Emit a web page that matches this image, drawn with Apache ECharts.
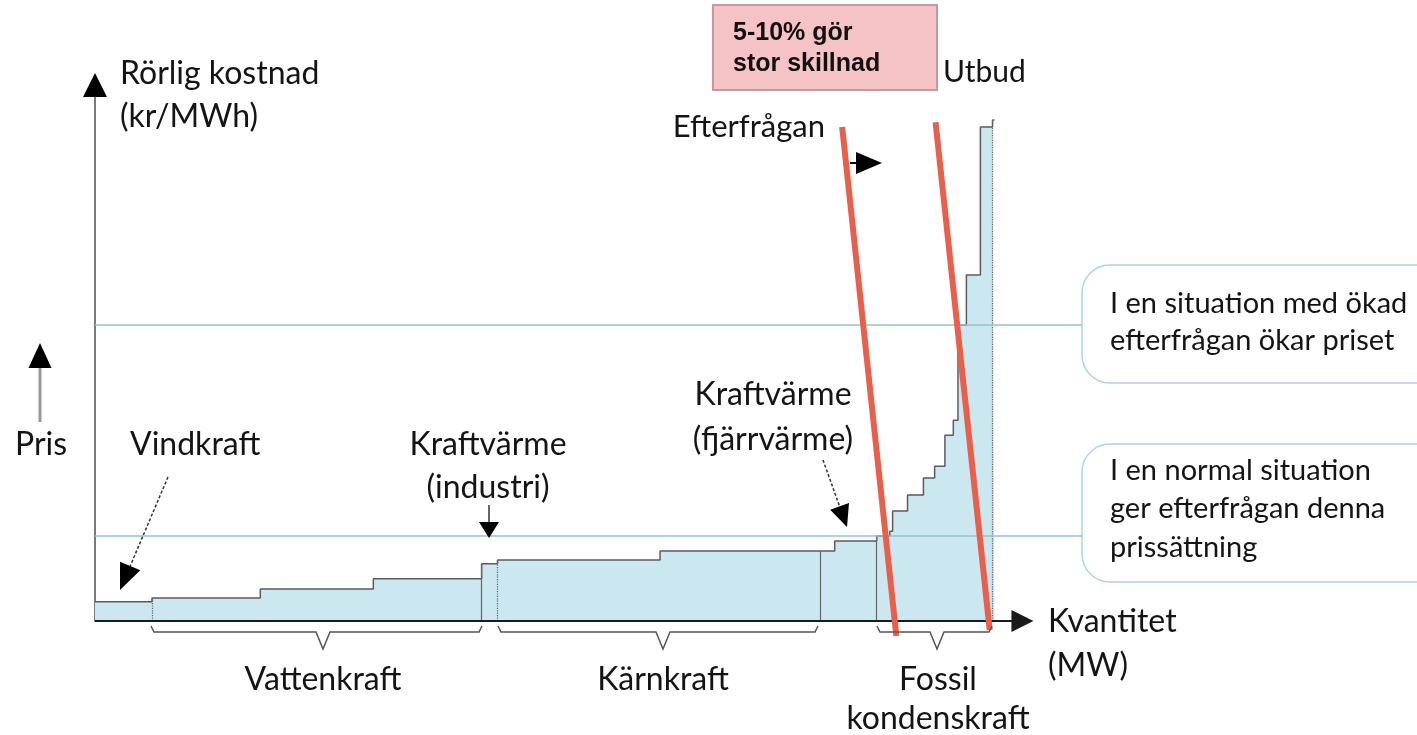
<!DOCTYPE html>
<html>
<head>
<meta charset="utf-8">
<script src="https://cdn.jsdelivr.net/npm/echarts@6/dist/echarts.min.js"></script>
<style>
  html, body { margin: 0; padding: 0; background: #fff; }
  #chart { width: 1417px; height: 735px; }
</style>
</head>
<body>
<div id="chart"></div>
<script>
// utbudskurva: kvantitet där varje nivå börjar, och rörlig kostnad för nivån
const stepX = [0, 6.1, 17.7, 29.8, 41.4, 43.1, 60.5, 79.2, 83.7, 85.1, 85.4, 87.0, 88.7, 89.9, 91.0, 91.9, 92.4, 93.3, 94.8, 96.1, 96.3];
const stepY = [3.6, 4.3, 6.0, 7.9, 10.7, 11.4, 13.1, 15.0, 15.9, 16.8, 20.6, 23.6, 26.8, 29.0, 34.8, 37.6, 55.4, 64.8, 92.5, 93.8, 93.8];

// gränser mellan kraftslag
const dividerX = [6.1, 41.4, 43.1, 77.6, 83.7, 96.1];
const dividerType = ['dotted', 'solid', 'dotted', 'solid', 'solid', 'dotted'];

// prisnivåer (normal / ökad efterfrågan)
const priceLevels = [15.9, 55.4];

// efterfrågekurvor
const demandNormal = [[80.0, 92.5], [85.8, -2.8]];
const demandHigh = [[90.0, 93.4], [95.8, -1.7]];

const braceNames = ['Vattenkraft', 'Kärnkraft', 'Fossil\nkondenskraft'];

const FONT = 'Lato, "Open Sans", sans-serif';
const TXT = '#141414';

function levelAt(x) {
  let y = stepY[0];
  for (let i = 0; i < stepX.length; i++) {
    if (stepX[i] <= x) y = stepY[i];
  }
  return y;
}

function label(text, x, y, size, align, extra) {
  return {
    type: 'text',
    z: 20,
    style: Object.assign({
      text: text, x: x, y: y,
      font: size + 'px ' + FONT,
      fill: TXT,
      textAlign: align || 'left',
      textVerticalAlign: 'middle'
    }, extra || {})
  };
}

function arrow(x1, y1, x2, y2, len, w, color, lineW, dash) {
  const dx = x2 - x1, dy = y2 - y1;
  const d = Math.sqrt(dx * dx + dy * dy);
  const ux = dx / d, uy = dy / d;
  const bx = x2 - ux * len, by = y2 - uy * len;
  const nx = -uy * w / 2, ny = ux * w / 2;
  return [
    {
      type: 'line', z: 20,
      shape: { x1: x1, y1: y1, x2: bx, y2: by },
      style: { stroke: color, lineWidth: lineW, lineDash: dash || null }
    },
    {
      type: 'polygon', z: 20,
      shape: { points: [[x2, y2], [bx + nx, by + ny], [bx - nx, by - ny]] },
      style: { fill: '#000' }
    }
  ];
}

function brace(x1, x2, tip) {
  return {
    type: 'polyline', z: 20,
    shape: { points: [[x1, 626], [x1 + 3, 632], [tip - 7, 632], [tip, 649], [tip + 7, 632], [x2 - 3, 632], [x2, 626]] },
    style: { stroke: '#555', lineWidth: 1.5, fill: null }
  };
}

const chart = echarts.init(document.getElementById('chart'));

const stepData = stepX.map((x, i) => [x, stepY[i]]);

const markData = [];
dividerX.forEach((x, i) => {
  markData.push([
    { coord: [x, 0], lineStyle: { type: dividerType[i], color: '#666', width: 1.2 } },
    { coord: [x, levelAt(x)] }
  ]);
});
priceLevels.forEach(p => {
  markData.push([
    { coord: [0, p], lineStyle: { type: 'solid', color: '#8cc7cd', width: 1.5 } },
    { coord: [106, p] }
  ]);
});
// x-axel med pil
markData.push([
  { coord: [0, 0], symbol: 'none', lineStyle: { type: 'solid', color: '#1a1a1a', width: 2 } },
  { coord: [99.3, 0], symbol: 'triangle', symbolSize: [22, 22] }
]);

const graphics = [];
// svart pilspets på y-axeln
graphics.push({
  type: 'polygon', z: 20,
  shape: { points: [[95, 73], [83, 97], [107, 97]] },
  style: { fill: '#000' }
});
// rubriker vid axlarna
graphics.push(label('Rörlig kostnad', 120, 74, 32));
graphics.push(label('(kr/MWh)', 120, 117, 32));
graphics.push(label('Pris', 15, 445, 32));
graphics.push(label('Kvantitet', 1048, 622, 32));
graphics.push(label('(MW)', 1048, 666, 32));
graphics.push(...arrow(40, 422, 40, 343, 25, 23, '#9a9a9a', 3));

// kraftslag
graphics.push(label('Vindkraft', 130, 445, 32));
graphics.push(...arrow(168, 477, 120, 590, 26, 22, '#333', 1.5, [3, 2]));
graphics.push(label('Kraftvärme', 488, 445, 32, 'center'));
graphics.push(label('(industri)', 488, 488, 32, 'center'));
graphics.push(...arrow(489, 505, 489, 538, 16, 20, '#333', 1.5));
graphics.push(label('Kraftvärme', 773, 395, 32, 'center'));
graphics.push(label('(fjärrvärme)', 773, 440, 32, 'center'));
graphics.push(...arrow(823, 460, 847, 527, 22, 20, '#333', 1.5, [3, 2]));

// klamrar under x-axeln
graphics.push(brace(151, 482, 323));
graphics.push(brace(498, 818, 663));
graphics.push(brace(877, 992, 937));
graphics.push(label(braceNames[0], 323, 680, 32, 'center'));
graphics.push(label(braceNames[1], 663, 680, 32, 'center'));
graphics.push(label(braceNames[2].split('\n')[0], 938, 680, 32, 'center'));
graphics.push(label(braceNames[2].split('\n')[1], 938, 719, 32, 'center'));

// efterfrågan / utbud
graphics.push(label('Efterfrågan', 825, 127, 31, 'right'));
graphics.push(...arrow(850, 163, 882, 163, 26, 22, '#000', 2));
graphics.push(label('Utbud', 943, 72, 30));

// rosa ruta
graphics.push({
  type: 'rect', z: 15,
  shape: { x: 713, y: 5, width: 224, height: 85 },
  style: { fill: '#f5c2c6', stroke: '#c49a9c', lineWidth: 2 }
});
graphics.push(label('5-10% gör', 733, 33, 25, 'left', { font: 'bold 25px "Liberation Sans", Arial, sans-serif', fill: '#111' }));
graphics.push(label('stor skillnad', 733, 64, 25, 'left', { font: 'bold 25px "Liberation Sans", Arial, sans-serif', fill: '#111' }));

// förklaringsrutor
graphics.push({
  type: 'rect', z: 15,
  shape: { x: 1082, y: 265, width: 400, height: 118, r: 28 },
  style: { fill: '#fff', stroke: '#aed6dc', lineWidth: 1.5 }
});
graphics.push(label('I en situation med ökad', 1110, 304, 29));
graphics.push(label('efterfrågan ökar priset', 1110, 341, 29));
graphics.push({
  type: 'rect', z: 15,
  shape: { x: 1082, y: 444, width: 400, height: 138, r: 28 },
  style: { fill: '#fff', stroke: '#aed6dc', lineWidth: 1.5 }
});
graphics.push(label('I en normal situation', 1110, 471, 29));
graphics.push(label('ger efterfrågan denna', 1110, 509, 29));
graphics.push(label('prissättning', 1110, 548, 29));

const option = {
  backgroundColor: '#fff',
  animation: false,
  grid: { left: 95, right: 332, top: 87, bottom: 114 },
  xAxis: {
    type: 'value', min: 0, max: 106,
    axisLine: { show: false }, axisTick: { show: false },
    axisLabel: { show: false }, splitLine: { show: false }
  },
  yAxis: {
    type: 'value', min: 0, max: 100,
    axisLine: {
      show: true, symbol: ['none', 'none'],
      lineStyle: { color: '#7a7a7a', width: 2 }
    },
    axisTick: { show: false }, axisLabel: { show: false }, splitLine: { show: false }
  },
  series: [
    {
      name: 'Utbud',
      type: 'line',
      step: 'end',
      symbol: 'none',
      data: stepData,
      lineStyle: { color: '#5c5c5c', width: 1.5 },
      areaStyle: { color: '#cbe7ef', opacity: 1 },
      z: 2,
      markLine: {
        silent: true,
        symbol: 'none',
        label: { show: false },
        data: markData
      }
    },
    {
      name: 'Efterfrågan normal',
      type: 'line',
      symbol: 'none',
      clip: false,
      data: demandNormal,
      lineStyle: { color: '#e8604c', width: 6 },
      z: 10
    },
    {
      name: 'Efterfrågan hög',
      type: 'line',
      symbol: 'none',
      clip: false,
      data: demandHigh,
      lineStyle: { color: '#e8604c', width: 6 },
      z: 10
    }
  ],
  graphic: graphics
};

chart.setOption(option);
</script>
</body>
</html>
